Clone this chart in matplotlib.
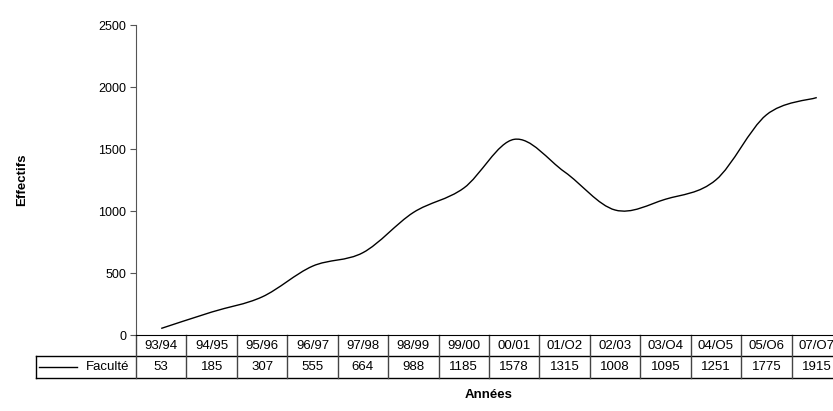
import matplotlib.pyplot as plt
from matplotlib.path import Path
from matplotlib.patches import PathPatch
from matplotlib.transforms import Affine2D

annees = ["93/94", "94/95", "95/96", "96/97", "97/98", "98/99", "99/00",
          "00/01", "01/O2", "02/03", "03/O4", "04/O5", "05/O6", "07/O7"]
faculte = [53, 185, 307, 555, 664, 988, 1185, 1578, 1315, 1008, 1095, 1251, 1775, 1915]
serie = "Faculté"

plt.rcParams["font.family"] = ["Liberation Sans", "DejaVu Sans"]

W, H = 833, 411
fig = plt.figure(figsize=(W / 100, H / 100), dpi=100)
left, right, top, bottom = 136, 842, 25, 335
ax = fig.add_axes([left / W, 1 - bottom / H, (right - left) / W, (bottom - top) / H])

n = len(annees)
xs = list(range(n))
ax.set_xlim(-0.5, n - 0.5)
ax.set_ylim(0, 2500)
ax.set_yticks(range(0, 2501, 500))
ax.set_xticks([])
for s in ("top", "right"):
    ax.spines[s].set_visible(False)
ax.spines["left"].set_color("#555555")
ax.spines["bottom"].set_color("black")
ax.tick_params(axis="y", direction="out", length=4, width=0.8, labelsize=9, pad=3, colors="#555555",
               labelcolor="black")

# courbe lissée (style Excel, bezier)
pts = list(zip(xs, faculte))
verts = [pts[0]]
codes = [Path.MOVETO]
for i in range(n - 1):
    p0 = pts[max(i - 1, 0)]
    p1 = pts[i]
    p2 = pts[i + 1]
    p3 = pts[min(i + 2, n - 1)]
    c1 = (p1[0] + (p2[0] - p0[0]) / 6, p1[1] + (p2[1] - p0[1]) / 6)
    c2 = (p2[0] - (p3[0] - p1[0]) / 6, p2[1] - (p3[1] - p1[1]) / 6)
    verts += [c1, c2, p2]
    codes += [Path.CURVE4] * 3
ax.add_patch(PathPatch(Path(verts, codes), fill=False, edgecolor="black", lw=1))

# tableau de données (coordonnées en pixels, origine en haut)
px = Affine2D().scale(1 / W, -1 / H).translate(0, 1) + fig.transFigure
r0, r1, r2 = 335, 356, 378
lab_left = 36
col_w = (right - left) / n

def seg(x0, y0, x1, y1, color="black"):
    ax.plot([x0, x1], [y0, y1], color=color, lw=1, transform=px, clip_on=False)

seg(lab_left, r1, right, r1)
seg(lab_left, r2, right, r2)
seg(lab_left, r1, lab_left, r2)
for i in range(n + 1):
    x = left + i * col_w
    seg(x, r0, x, r2, color="#444444")

for i, (a, v) in enumerate(zip(annees, faculte)):
    cx = left + (i + 0.5) * col_w
    ax.text(cx, (r0 + r1) / 2, a, transform=px, ha="center", va="center", fontsize=9.5, clip_on=False)
    ax.text(cx, (r1 + r2) / 2, str(v), transform=px, ha="center", va="center", fontsize=9.5, clip_on=False)

seg(39, (r1 + r2) / 2, 77, (r1 + r2) / 2)
ax.text(129, (r1 + r2) / 2, serie, transform=px, ha="right", va="center", fontsize=9.5, clip_on=False)

fig.text(22 / W, 1 - 180 / H, "Effectifs", rotation=90, ha="center", va="center",
         fontsize=9.5, fontweight="bold")
fig.text(489 / W, 1 - 395 / H, "Années", ha="center", va="center", fontsize=9.5, fontweight="bold")

fig.savefig("out.png", dpi=100)
